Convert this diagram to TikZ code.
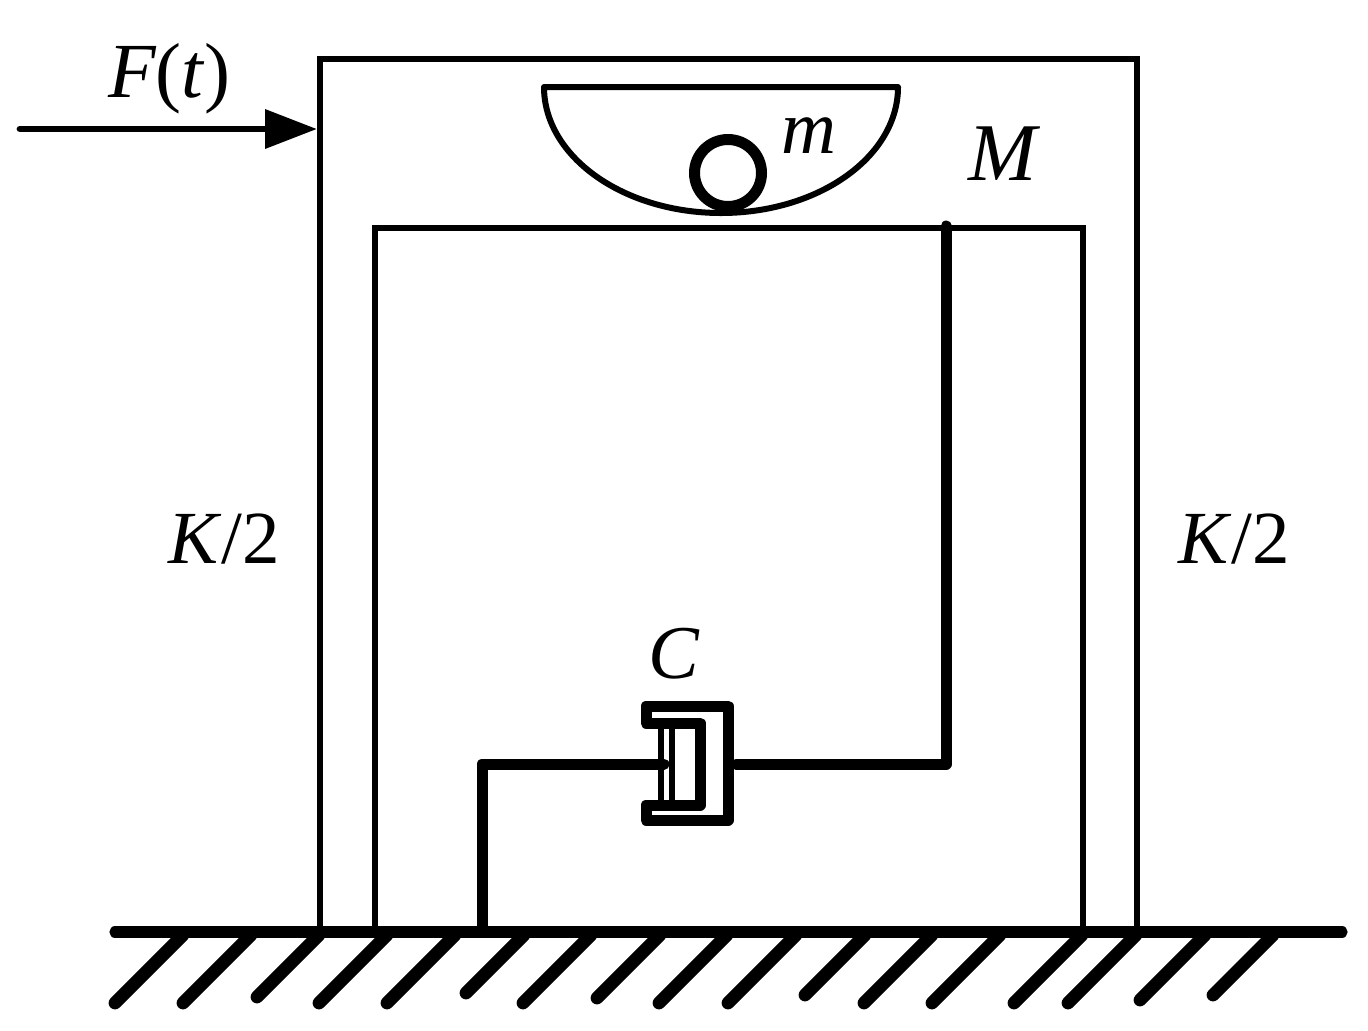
\documentclass[tikz,border=0pt]{standalone}
\usepackage{fontspec}
\setmainfont{Liberation Serif}
\usetikzlibrary{arrows.meta}
\tikzset{
  frame/.style={line width=3.2pt, line join=miter},
  rod/.style={line width=5.5pt, line cap=round, line join=round},
  plate/.style={line width=3pt},
  ground/.style={line width=5.6pt, line cap=round},
  hatch/.style={line width=6.4pt, line cap=round},
  lab/.style={inner sep=0pt, anchor=base west, font=\fontsize{38pt}{38pt}\selectfont},
}

\begin{document}
\begin{tikzpicture}[x=0.5pt, y=-0.5pt]
  \useasboundingbox (0,0) rectangle (1368,1030);
  % ground
  \coordinate (gl) at (115,932);
  \coordinate (gr) at (1342,932);
  \draw[ground] (gl) -- (gr);
  \foreach \bx/\by in {115/1003,183/1003,257/997,319/1003,387/1003,466/993,523/1003,
                       597/998,659/1003,728/1003,805/995,864/1003,932/1003,1014/1003,
                       1068/1003,1140/1000,1213/995}
    \draw[hatch] (\bx,\by) -- (\bx+\by-935,935);
  % frame M
  \draw[frame] (320,932) -- (320,59) -- (1137,59) -- (1137,932);
  \draw[frame] (375,932) -- (375,228) -- (1083,228) -- (1083,932);
  % bowl and ball
  \draw[plate, line join=round] (544,87) -- (898,87) arc[start angle=0, end angle=180, x radius=177, y radius=126] -- cycle;
  \node[circle, draw, line width=5.5pt, minimum size=33.5pt, inner sep=0pt] (ball) at (728,173) {};
  % damper
  \coordinate (postb) at (482,932);
  \coordinate (postt) at (482,764);
  \coordinate (pist) at (664,764);
  \coordinate (cyl) at (736,764);
  \coordinate (armb) at (946,764);
  \coordinate (armt) at (946,226);
  \draw[rod] (postb) -- (postt) -- (pist);
  \draw[rod] (cyl) -- (armb) -- (armt);
  \draw[rod] (646,723) -- (646,706) -- (728,706) -- (728,820) -- (646,820) -- (646,805) -- (700,805) -- (700,723) -- cycle;
  \draw[line width=3.2pt] (661,723) -- (661,805);
  \draw[line width=3.2pt] (672,723) -- (672,805);
  % force
  \coordinate (fstart) at (20,129);
  \coordinate (ftip) at (317,129);
  \draw[line width=3.4pt, line cap=round, -{Triangle[length=26pt,width=19pt]}] (fstart) -- (ftip);
  % labels
  \node[lab, font=\fontsize{39pt}{39pt}\selectfont] (force) at (108,97) {\textit{F}\kern-.5pt(\textit{t})};
  \node[lab] (mball) at (781,153) {\textit{m}};
  \node[lab, font=\fontsize{41pt}{41pt}\selectfont] (mframe) at (968,180) {\textit{M}};
  \node[lab] (damp) at (648,678) {\textit{C}};
  \node[lab, font=\fontsize{37.5pt}{37.5pt}\selectfont] (kleft) at (168,563) {\textit{K}/2};
  \node[lab, font=\fontsize{37.5pt}{37.5pt}\selectfont] (kright) at (1178,563) {\textit{K}/2};
\end{tikzpicture}
\end{document}
